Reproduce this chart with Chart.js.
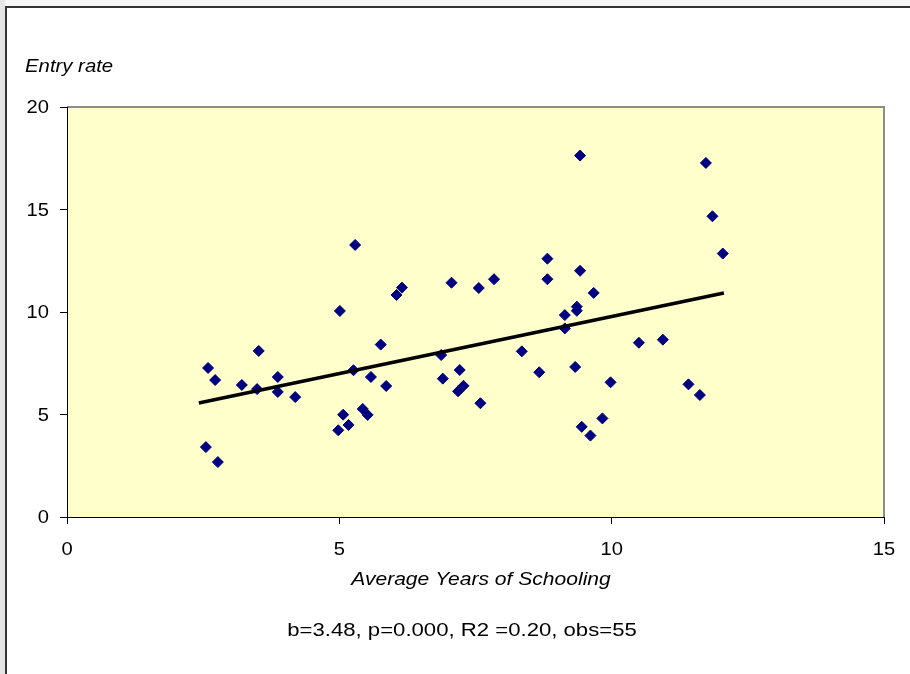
<!DOCTYPE html>
<html>
<head>
<meta charset="utf-8">
<script src="https://cdn.jsdelivr.net/npm/chart.js@4.4.1/dist/chart.umd.min.js"></script>
<style>
  html, body { margin: 0; padding: 0; background: #ffffff; }
  #wrap { position: relative; width: 910px; height: 674px; }
  canvas { display: block; }
</style>
</head>
<body>
<div id="wrap"><canvas id="c" width="910" height="674"></canvas></div>
<script>
// Average years of schooling (x) against entry rate (y), one value per country
const schooling = [
  2.59, 2.72, 2.55, 2.77, 3.21, 3.52, 3.49, 3.87, 3.87, 4.19,
  5.01, 6.05, 6.15, 5.76, 5.26, 5.58, 5.86, 5.43, 5.52, 5.07,
  5.17, 4.98, 5.29, 7.06, 7.56, 7.84, 8.82, 8.82, 9.42, 9.67,
  9.36, 9.36, 9.14, 9.14, 6.87, 8.35, 7.21, 6.90, 7.28, 7.18,
  7.59, 8.67, 9.33, 9.98, 10.50, 10.94, 9.83, 9.45, 9.61, 9.42,
  11.73, 11.85, 12.04, 11.41, 11.62
];
const entryRate = [
  7.27, 6.68, 3.41, 2.68, 6.44, 8.10, 6.24, 6.83, 6.10, 5.85,
  10.05, 10.83, 11.19, 8.41, 7.16, 6.83, 6.39, 5.27, 4.98, 4.99,
  4.49, 4.23, 13.27, 11.43, 11.17, 11.60, 11.60, 12.60, 12.01, 10.93,
  10.26, 10.06, 9.85, 9.20, 7.90, 8.08, 7.17, 6.75, 6.40, 6.13,
  5.55, 7.06, 7.32, 6.57, 8.50, 8.65, 4.81, 4.40, 3.97, 17.63,
  17.27, 14.67, 12.85, 6.47, 5.95
];

// Fitted trend line end points
const trendX = [2.42, 12.06];
const trendY = [5.56, 10.93];

// Axis ticks
const xTicks = [0, 5, 10, 15];
const yTicks = [0, 5, 10, 15, 20];

const xTitle = 'Average Years of Schooling';
const yTitle = 'Entry rate';
const footnote = 'b=3.48, p=0.000, R2 =0.20, obs=55';

const FONT = '"Liberation Sans", Arial, sans-serif';

const scatterPts = schooling.map((x, i) => ({ x: x, y: entryRate[i] }));
const trendPts = trendX.map((x, i) => ({ x: x, y: trendY[i] }));

// Text drawn slightly widened, the way the old spreadsheet renderer set it
function wideText(ctx, text, x, y, align, font, sx) {
  ctx.save();
  ctx.font = font;
  ctx.textAlign = align;
  ctx.textBaseline = 'alphabetic';
  ctx.fillStyle = '#000';
  ctx.translate(x, y);
  ctx.scale(sx, 1);
  ctx.fillText(text, 0, 0);
  ctx.restore();
}

// Page frame, plot background, tick labels and the free-standing texts
const decor = {
  id: 'decor',
  beforeDraw(chart) {
    const ctx = chart.ctx;
    const a = chart.chartArea;
    ctx.save();
    ctx.fillStyle = '#e4e4e4';
    ctx.fillRect(0, 0, 5, chart.height);
    ctx.fillStyle = '#f6f6f6';
    ctx.fillRect(5, 0, chart.width - 5, 6);
    ctx.fillStyle = '#333333';
    ctx.fillRect(5, 6, chart.width - 5, 2);
    ctx.fillRect(5, 6, 2, chart.height - 6);
    ctx.fillStyle = '#ffffcc';
    ctx.fillRect(a.left, a.top, a.right - a.left, a.bottom - a.top);
    ctx.strokeStyle = '#8c8c8c';
    ctx.lineWidth = 2;
    ctx.beginPath();
    ctx.moveTo(a.left, a.top);
    ctx.lineTo(a.right, a.top);
    ctx.lineTo(a.right, a.bottom);
    ctx.stroke();
    ctx.restore();
  },
  afterDraw(chart) {
    const ctx = chart.ctx;
    const a = chart.chartArea;
    const xs = chart.scales.x;
    const ys = chart.scales.y;
    const tickFont = '18px ' + FONT;
    xTicks.forEach(v => {
      wideText(ctx, String(v), xs.getPixelForValue(v), a.bottom + 38, 'center', tickFont, 1.12);
    });
    yTicks.forEach(v => {
      wideText(ctx, String(v), a.left - 18, ys.getPixelForValue(v) + 6, 'right', tickFont, 1.12);
    });
    wideText(ctx, yTitle, 25, 72, 'left', 'italic 18px ' + FONT, 1.13);
    wideText(ctx, xTitle, 481, 585, 'center', 'italic 18px ' + FONT, 1.17);
    wideText(ctx, footnote, 462, 636, 'center', '18px ' + FONT, 1.23);
  }
};

new Chart(document.getElementById('c'), {
  type: 'scatter',
  data: {
    datasets: [
      {
        type: 'line',
        data: trendPts,
        borderColor: '#000000',
        borderWidth: 3.5,
        pointRadius: 0,
        showLine: true,
        fill: false,
        order: 0
      },
      {
        data: scatterPts,
        pointStyle: 'rectRot',
        pointRadius: 5.5,
        pointBorderWidth: 1,
        backgroundColor: '#000080',
        borderColor: '#000080',
        order: 1
      }
    ]
  },
  plugins: [decor],
  options: {
    responsive: false,
    animation: false,
    events: [],
    layout: { padding: { top: 107, right: 26, left: 0, bottom: 0 } },
    plugins: {
      legend: { display: false },
      tooltip: { enabled: false }
    },
    scales: {
      x: {
        type: 'linear',
        min: 0, max: 15,
        afterBuildTicks(s) { s.ticks = xTicks.map(v => ({ value: v })); },
        afterFit(s) { s.height = 674 - 517; },
        grid: { drawOnChartArea: false, drawTicks: true, tickLength: 7, tickColor: '#000', tickWidth: 1 },
        border: { color: '#000', width: 1 },
        ticks: { display: false }
      },
      y: {
        type: 'linear',
        min: 0, max: 20,
        afterBuildTicks(s) { s.ticks = yTicks.map(v => ({ value: v })); },
        afterFit(s) { s.width = 67; },
        grid: { drawOnChartArea: false, drawTicks: true, tickLength: 7, tickColor: '#000', tickWidth: 1 },
        border: { color: '#000', width: 1 },
        ticks: { display: false }
      }
    }
  }
});
</script>
</body>
</html>
